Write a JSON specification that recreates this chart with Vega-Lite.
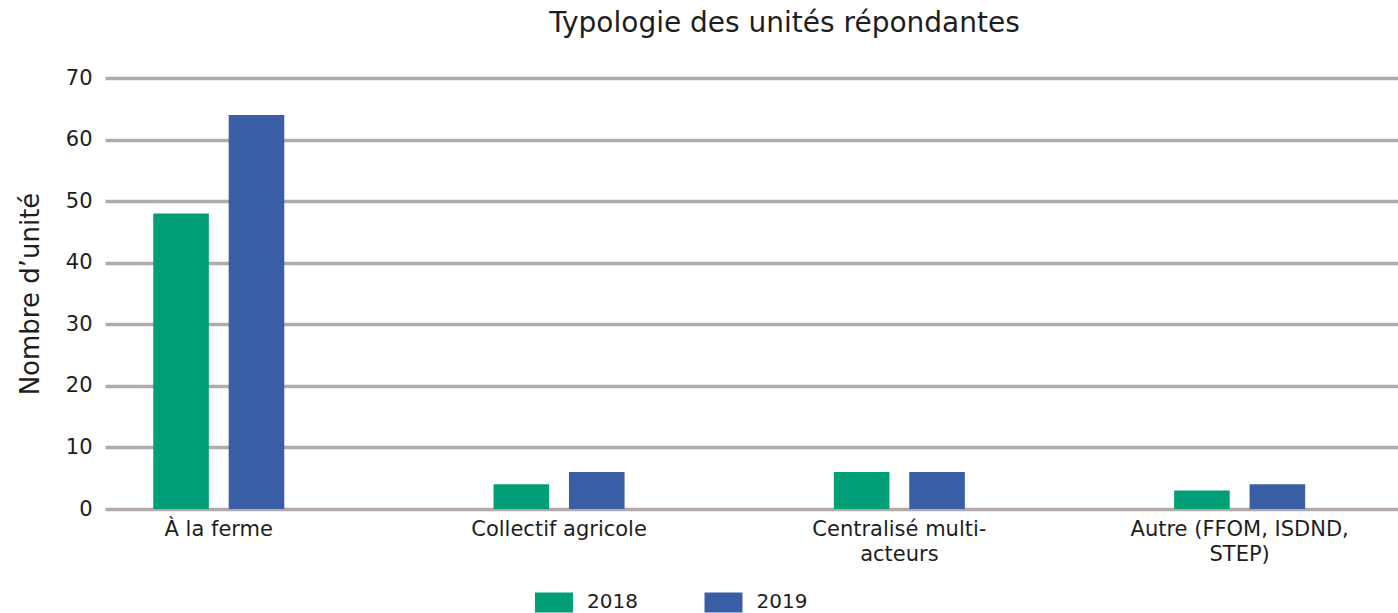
{
  "$schema": "https://vega.github.io/schema/vega-lite/v6.json",
  "autosize": {"type": "none"},
  "padding": {"left": 105, "top": 78, "right": 0, "bottom": 104},
  "width": 1293,
  "height": 431,
  "background": "white",
  "title": {
    "text": "Typologie des unités répondantes",
    "fontSize": 28,
    "font": "DejaVu Sans",
    "fontWeight": "normal",
    "color": "#1e1e1e",
    "anchor": "middle",
    "dx": 33,
    "offset": 29,
    "frame": "group"
  },
  "data": {
    "values": [
      {"categorie": "À la ferme", "annee": "2018", "nombre": 48},
      {"categorie": "À la ferme", "annee": "2019", "nombre": 64},
      {"categorie": "Collectif agricole", "annee": "2018", "nombre": 4},
      {"categorie": "Collectif agricole", "annee": "2019", "nombre": 6},
      {"categorie": "Centralisé multi-acteurs", "annee": "2018", "nombre": 6},
      {"categorie": "Centralisé multi-acteurs", "annee": "2019", "nombre": 6},
      {"categorie": "Autre (FFOM, ISDND, STEP)", "annee": "2018", "nombre": 3},
      {"categorie": "Autre (FFOM, ISDND, STEP)", "annee": "2019", "nombre": 4}
    ]
  },
  "mark": {"type": "bar"},
  "encoding": {
    "x": {
      "field": "categorie",
      "type": "nominal",
      "sort": null,
      "scale": {"paddingInner": 0.615, "paddingOuter": 0.2073, "align": 0.342},
      "axis": {
        "title": null,
        "labelAngle": 0,
        "domain": false,
        "ticks": false,
        "labelPadding": 9,
        "labelFontSize": 21,
        "labelFont": "DejaVu Sans",
        "labelColor": "#1e1e1e",
        "labelLineHeight": 25,
        "labelLimit": 400,
        "labelExpr": "datum.value == 'Centralisé multi-acteurs' ? ['Centralisé multi-', 'acteurs'] : datum.value == 'Autre (FFOM, ISDND, STEP)' ? ['Autre (FFOM, ISDND,', 'STEP)'] : datum.value"
      }
    },
    "xOffset": {
      "field": "annee",
      "type": "nominal",
      "scale": {"paddingInner": 0.263, "paddingOuter": 0}
    },
    "y": {
      "field": "nombre",
      "type": "quantitative",
      "scale": {"domain": [0, 70], "nice": false},
      "axis": {
        "title": "Nombre d’unité",
        "titleFontSize": 26,
        "titleFont": "DejaVu Sans",
        "titleFontWeight": "normal",
        "titleColor": "#1e1e1e",
        "titlePadding": 22,
        "values": [0, 10, 20, 30, 40, 50, 60, 70],
        "domain": false,
        "ticks": false,
        "labelPadding": 13,
        "labelFontSize": 21,
        "labelFont": "DejaVu Sans",
        "labelColor": "#1e1e1e",
        "gridColor": "#b1aaa9",
        "gridWidth": 3.5,
        "gridOpacity": 1
      }
    },
    "color": {
      "field": "annee",
      "type": "nominal",
      "scale": {"domain": ["2018", "2019"], "range": ["#009e76", "#3a5ea6"]},
      "legend": {
        "title": null,
        "orient": "none",
        "direction": "horizontal",
        "legendX": 430,
        "legendY": 505,
        "symbolType": "M-1,-0.53H1V0.53H-1Z",
        "symbolSize": 1444,
        "symbolStrokeWidth": 0,
        "symbolOpacity": 1,
        "labelFontSize": 20,
        "labelFont": "DejaVu Sans",
        "labelColor": "#1e1e1e",
        "labelOffset": 14,
        "columnPadding": 66.5,
        "gridAlign": "all"
      }
    }
  },
  "config": {
    "view": {"stroke": null}
  }
}
